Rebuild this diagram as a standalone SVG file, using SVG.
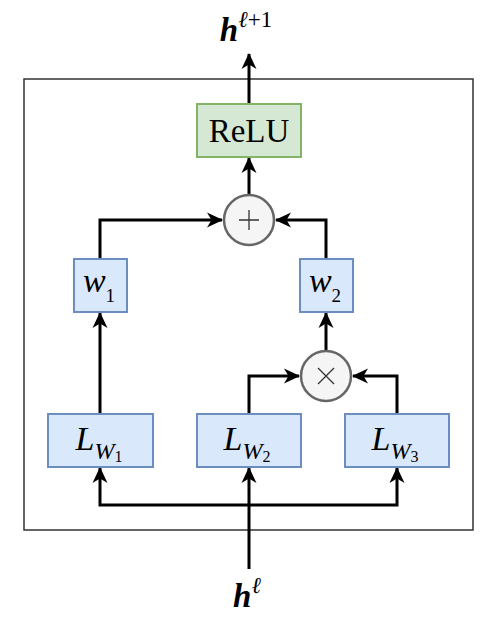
<svg xmlns="http://www.w3.org/2000/svg" width="498" height="623" viewBox="0 0 498 623">
<style>
.frame{fill:none;stroke:#333;stroke-width:1.5}
.blue{fill:#dae8fc;stroke:#6c8ebf;stroke-width:2}
.green{fill:#d5e8d4;stroke:#82b366;stroke-width:2}
.op{fill:#f5f5f5;stroke:#666;stroke-width:2.5}
.sym{stroke:#333;stroke-width:1.3;fill:none}
.con{fill:none;stroke:#000;stroke-width:3}
.t{font-family:"Liberation Serif","DejaVu Serif",serif;fill:#000}
.it{font-style:italic}
</style>
<defs>
<marker id="arr" viewBox="0 0 16 16" refX="15" refY="8" markerWidth="16" markerHeight="16" markerUnits="userSpaceOnUse" orient="auto">
<path d="M0,0.5 L16,8 L0,15.5 L4.5,8 Z" fill="#000"/>
</marker>
</defs>
<rect class="frame" x="24" y="79" width="449" height="451"/>
<g id="connectors">
<path class="con" d="M249,104 L249,54" marker-end="url(#arr)"/>
<path class="con" d="M249,194 L249,158" marker-end="url(#arr)"/>
<path class="con" d="M100,259 L100,220 L222,220" marker-end="url(#arr)"/>
<path class="con" d="M326,259 L326,220 L276,220" marker-end="url(#arr)"/>
<path class="con" d="M100,414 L100,313" marker-end="url(#arr)"/>
<path class="con" d="M326,350 L326,313" marker-end="url(#arr)"/>
<path class="con" d="M249,414 L249,376 L299,376" marker-end="url(#arr)"/>
<path class="con" d="M397,414 L397,376 L353,376" marker-end="url(#arr)"/>
<path class="con" d="M249,569 L249,468" marker-end="url(#arr)"/>
<path class="con" d="M249,505 L100,505 L100,468" marker-end="url(#arr)"/>
<path class="con" d="M249,505 L397,505 L397,468" marker-end="url(#arr)"/>
</g>
<g id="relu">
<rect class="green" x="197" y="104" width="104" height="53"/>
<text class="t" x="249" y="142" font-size="33" text-anchor="middle">ReLU</text>
</g>
<g id="plus">
<circle class="op" cx="249" cy="220" r="25"/>
<path class="sym" d="M239,220 H259 M249,210 V230"/>
</g>
<g id="w1">
<rect class="blue" x="74" y="259" width="53" height="53"/>
<text class="t" x="99" y="292" font-size="34" text-anchor="middle"><tspan class="it">w</tspan><tspan font-size="19" dy="10">1</tspan></text>
</g>
<g id="w2">
<rect class="blue" x="300" y="259" width="53" height="53"/>
<text class="t" x="325" y="292" font-size="34" text-anchor="middle"><tspan class="it">w</tspan><tspan font-size="19" dy="10">2</tspan></text>
</g>
<g id="times">
<circle class="op" cx="326" cy="376" r="25"/>
<path class="sym" d="M318,368 L334,384 M334,368 L318,384"/>
</g>
<g id="lw1">
<rect class="blue" x="48" y="414" width="105" height="53"/>
<text class="t" x="99" y="450" font-size="34" text-anchor="middle"><tspan class="it">L</tspan><tspan class="it" font-size="24" dy="9">W</tspan><tspan font-size="16" dy="3">1</tspan></text>
</g>
<g id="lw2">
<rect class="blue" x="197" y="414" width="104" height="53"/>
<text class="t" x="247" y="450" font-size="34" text-anchor="middle"><tspan class="it">L</tspan><tspan class="it" font-size="24" dy="9">W</tspan><tspan font-size="16" dy="3">2</tspan></text>
</g>
<g id="lw3">
<rect class="blue" x="345" y="414" width="104" height="53"/>
<text class="t" x="395" y="450" font-size="34" text-anchor="middle"><tspan class="it">L</tspan><tspan class="it" font-size="24" dy="9">W</tspan><tspan font-size="16" dy="3">3</tspan></text>
</g>
<g id="out">
<text class="t" x="246" y="41" font-size="33" text-anchor="middle"><tspan class="it" font-weight="bold">h</tspan><tspan class="it" font-size="23" dy="-14">ℓ</tspan><tspan font-size="23">+1</tspan></text>
</g>
<g id="in">
<text class="t" x="247" y="607" font-size="33" text-anchor="middle"><tspan class="it" font-weight="bold">h</tspan><tspan class="it" font-size="23" dy="-14">ℓ</tspan></text>
</g>
</svg>
